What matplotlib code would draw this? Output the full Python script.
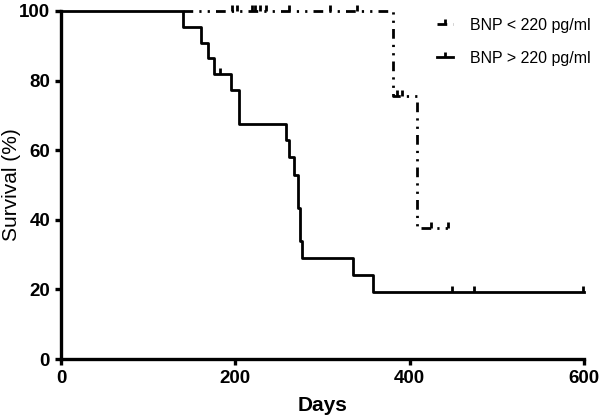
import matplotlib
matplotlib.use("Agg")
import matplotlib.pyplot as plt
from matplotlib.path import Path
from matplotlib.lines import Line2D

plt.rcParams['font.family'] = ['Liberation Sans', 'DejaVu Sans']

# BNP > 220 pg/ml (solid)
hi_times = [0, 140, 160, 169, 175, 195, 204, 258, 261, 267, 272, 274, 277, 335, 358, 600]
hi_surv = [100, 95.5, 90.9, 86.4, 81.8, 77.3, 67.6, 62.9, 57.9, 53.0, 43.3, 34.0, 28.9, 24.1, 19.3, 19.3]
hi_cens_t = [182, 449, 474, 599]
hi_cens_s = [81.8, 19.3, 19.3, 19.3]

# BNP < 220 pg/ml (dash-dot-dot)
lo_times = [140, 381, 409, 444]
lo_surv = [100, 75.5, 37.7, 37.7]
lo_cens_t = [196, 202, 219, 223, 228, 235, 261, 309, 340, 385, 391, 425, 444]
lo_cens_s = [100, 100, 100, 100, 100, 100, 100, 100, 100, 75.5, 75.5, 37.7, 37.7]

labels = ['BNP < 220 pg/ml', 'BNP > 220 pg/ml']
xticks = [0, 200, 400, 600]
yticks = [0, 20, 40, 60, 80, 100]

tick_up = Path([(0, 0), (0, 1)])

fig = plt.figure(figsize=(6.0, 4.19), dpi=100)
ax = fig.add_axes([0.102, 0.143, 0.871, 0.831])

dash = (0, (3.5, 2.2, 0.8, 2.2, 0.8, 2.2))
ax.step(hi_times, hi_surv, where='post', color='black', lw=2.0, clip_on=False, zorder=3)
ax.plot(hi_cens_t, hi_cens_s, ls='none', marker=tick_up, ms=9, mew=2.0, color='black', clip_on=False, zorder=3)
ax.step(lo_times, lo_surv, where='post', color='black', lw=2.0, ls=dash, clip_on=False, zorder=3)
ax.plot(lo_cens_t, lo_cens_s, ls='none', marker=tick_up, ms=9, mew=2.0, color='black', clip_on=False, zorder=3)

ax.set_xlim(0, 600)
ax.set_ylim(0, 100)
ax.set_xticks(xticks)
ax.set_yticks(yticks)
for s in ['top', 'right']:
    ax.spines[s].set_visible(False)
for s in ['left', 'bottom']:
    ax.spines[s].set_linewidth(2.4)
ax.tick_params(width=2.4, length=4, direction='out', labelsize=13.5, pad=4)
for lab in ax.get_xticklabels() + ax.get_yticklabels():
    lab.set_fontweight('bold')

ax.set_xlabel('Days', fontsize=15, fontweight='bold', labelpad=6)
ax.set_ylabel('Survival (%)', fontsize=15)
ax.yaxis.set_label_coords(-0.076, 0.5)

handles = [Line2D([0], [0], color='black', lw=2.0, ls=dash, marker=tick_up, ms=7, mew=2.0),
           Line2D([0], [0], color='black', lw=2.0, marker=tick_up, ms=7, mew=2.0)]
ax.legend(handles, labels, loc='upper left', bbox_to_anchor=(0.728, 0.958),
          bbox_transform=fig.transFigure, frameon=False, borderpad=0, borderaxespad=0,
          numpoints=1, fontsize=11.5, handlelength=1.0, handletextpad=1.05, labelspacing=1.15)

fig.savefig('out.png', dpi=100)
